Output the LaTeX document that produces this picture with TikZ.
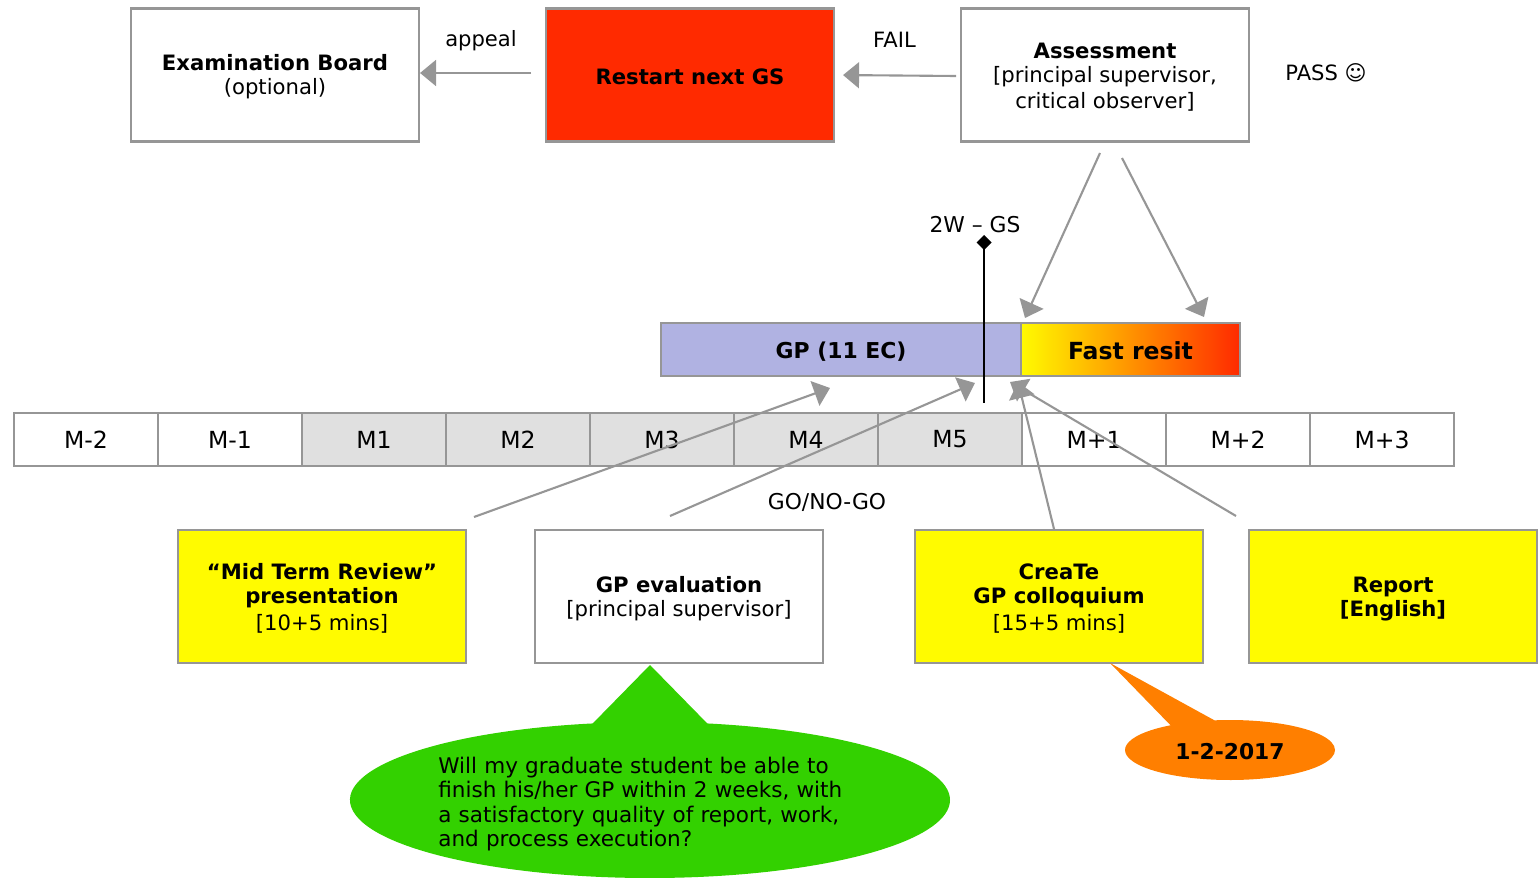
\documentclass[tikz,border=0pt]{standalone}
\usepackage{fontspec}
\setmainfont{DejaVu Sans}
\usetikzlibrary{positioning}
\usetikzlibrary{arrows.meta}
\usetikzlibrary{shapes.callouts}
\definecolor{lgrey}{HTML}{969696}
\definecolor{cellgrey}{HTML}{E0E0E0}
\definecolor{gpblue}{HTML}{B0B2E2}
\definecolor{rred}{HTML}{FF2A00}
\definecolor{ryel}{HTML}{FFFB00}
\definecolor{bgreen}{HTML}{33D100}
\definecolor{borange}{HTML}{FF7F00}
\newcommand{\tp}{\rule{0pt}{11.5pt}}
\tikzset{bx/.style={draw=lgrey,line width=1.2pt,minimum width=5.76cm,minimum height=2.66cm,inner sep=0pt,align=center,font=\fontsize{12.05}{13.6}\selectfont}}
\tikzset{mon/.style={draw=lgrey,line width=1.2pt,minimum width=2.88cm,minimum height=1.06cm,inner sep=0pt,font=\fontsize{13.4}{15}\selectfont}}
\tikzset{bar/.style={draw=lgrey,line width=1.2pt,minimum height=1.06cm,inner sep=0pt,outer sep=0pt}}
\tikzset{lnk/.style={draw=lgrey,line width=1.2pt,-{Triangle[length=3.2mm,width=5.2mm]}}}
\tikzset{lbl/.style={inner sep=0pt,font=\fontsize{12}{14}\selectfont}}
\begin{document}
\begin{tikzpicture}[on grid]
        \useasboundingbox (0,0) rectangle (30.8,17.54);

        \node[bx] (board) at (5.5, 16.04) {\tp\textbf{Examination Board}\\(optional)};
        \node[bx, fill=rred, right=8.3 of board] (restart) {\tp\textbf{Restart next GS}};
        \node[bx, right=8.3 of restart, fill=white] (assess) {\tp\textbf{Assessment}\\{[}principal supervisor,\\[1.5pt]critical observer{]}};

        \node[lbl] (appeal) at (9.62, 16.72) {appeal};
        \node[lbl] (fail) at (17.89, 16.74) {FAIL};
        \node[lbl] (pass) at (26.52, 16.09) {PASS ☺};

        \node[bar, fill=gpblue, minimum width=7.2cm, font=\bfseries\fontsize{12.45}{15}\selectfont] (gp) at (16.82, 10.55) {\tp GP (11 EC)};
        \node[bar, anchor=west, left color=ryel, right color=rred, minimum width=4.38cm, font=\bfseries\fontsize{13.4}{15}\selectfont] (fast) at (gp.east) {\tp Fast resit};

        \node[mon] (mm2) at (1.72, 8.75) {M-2};
        \node[mon, right=2.88 of mm2] (mm1) {M-1};
        \node[mon, right=2.88 of mm1, fill=cellgrey] (m1) {M1};
        \node[mon, right=2.88 of m1, fill=cellgrey] (m2) {M2};
        \node[mon, right=2.88 of m2, fill=cellgrey] (m3) {M3};
        \node[mon, right=2.88 of m3, fill=cellgrey] (m4) {M4};
        \node[mon, right=2.88 of m4, fill=cellgrey] (m5) {M5};
        \node[mon, right=2.88 of m5] (p1) {M+1};
        \node[mon, right=2.88 of p1] (p2) {M+2};
        \node[mon, right=2.88 of p2] (p3) {M+3};

        \node[lbl, font=\fontsize{12.4}{14}\selectfont] (gonogo) at (16.54, 7.5) {GO/NO-GO};

        \node[bx, fill=ryel] (midterm) at (6.44, 5.61) {\tp\textbf{“Mid Term Review”}\\\textbf{presentation}\\[1.5pt]{[}10+5 mins{]}};
        \node[bx, right=7.14 of midterm] (eval) {\tp\textbf{GP evaluation}\\{[}principal supervisor{]}};
        \node[bx, fill=ryel, right=7.6 of eval] (create) {\tp\textbf{CreaTe}\\\textbf{GP colloquium}\\[1.5pt]{[}15+5 mins{]}};
        \node[bx, fill=ryel, right=6.68 of create] (report) {\tp\textbf{Report}\\\textbf{[English]}};

        \node[ellipse callout, fill=bgreen, minimum width=12cm, minimum height=3.12cm, inner sep=0pt, callout absolute pointer={(13,4.24)}, callout pointer arc=22] (bubble) at (13, 1.54) {};
        \node[lbl, align=left, text width=8.4cm, font=\fontsize{12.25}{14}\selectfont, anchor=west] (bubbletxt) at (8.76, 1.46) {Will my graduate student be able to\\finish his/her GP within 2 weeks, with\\a satisfactory quality of report, work,\\and process execution?};

        \node[ellipse callout, fill=borange, minimum width=4.2cm, minimum height=1.2cm, inner sep=0pt, callout absolute pointer={(22.2,4.28)}, callout pointer arc=26, font=\bfseries\fontsize{12.4}{14}\selectfont] (date) at (24.6, 2.54) {\tp 1-2-2017};

        % free ends
        \coordinate (appealS) at (10.62, 16.08);
        \coordinate (failS) at (19.12, 16.02);
        \coordinate (a1S) at (22, 14.48);
        \coordinate (a1E) at (20.5, 11.18);
        \coordinate (a2S) at (22.44, 14.38);
        \coordinate (a2E) at (24.08, 11.2);
        \coordinate (mtS) at (9.48, 7.2);
        \coordinate (mtE) at (16.6, 9.78);
        \coordinate (evS) at (13.4, 7.22);
        \coordinate (evE) at (19.5, 9.88);
        \coordinate (crS) at (21.08, 6.96);
        \coordinate (crE) at (20.36, 9.9);
        \coordinate (reS) at (24.72, 7.22);
        \coordinate (reE) at (20.2, 9.9);
        \coordinate (pinB) at (19.68, 9.48);
        \coordinate (pinT) at (19.68, 12.84);

        \node[lbl, font=\fontsize{12.4}{14}\selectfont] (pin) at (19.5, 13.04) {2W – GS};

        \draw [lnk] (appealS) -- (board.east |- appealS);
        \draw [lnk, shorten >=0.16cm] (failS) -- (restart.east);
        \draw [lnk] (a1S) -- (a1E);
        \draw [lnk] (a2S) -- (a2E);
        \draw [lnk] (mtS) -- (mtE);
        \draw [lnk] (evS) -- (evE);
        \draw [lnk] (crS) -- (crE);
        \draw [lnk] (reS) -- (reE);
        \draw [line width=1.2pt, {Diamond[length=3mm,width=3mm]}-] (pinT) -- (pinB);
    \end{tikzpicture}
\end{document}
